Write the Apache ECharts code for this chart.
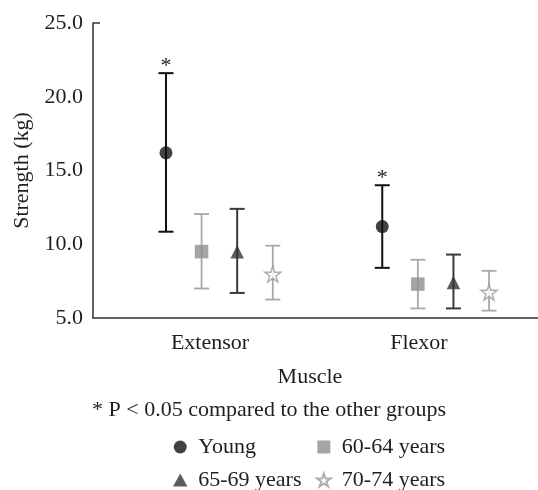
<!DOCTYPE html>
<html>
<head>
<meta charset="utf-8">
<script src="https://cdn.jsdelivr.net/npm/echarts@6/dist/echarts.min.js"></script>
<style>html,body{margin:0;padding:0;background:#fff;}#main{width:538px;height:490px;}</style>
</head>
<body>
<div id="main"></div>
<script>
// ---- data ----
const categories = ['Extensor', 'Flexor'];
const seriesNames = ['Young', '60-64 years', '65-69 years', '70-74 years'];
const youngMean = [16.2, 11.2];
const youngLow = [10.85, 8.4];
const youngHigh = [21.6, 14.0];
const g6064Mean = [9.5, 7.3];
const g6064Low = [7.0, 5.65];
const g6064High = [12.05, 8.95];
const g6569Mean = [9.5, 7.4];
const g6569Low = [6.7, 5.65];
const g6569High = [12.4, 9.3];
const g7074Mean = [7.98, 6.75];
const g7074Low = [6.25, 5.5];
const g7074High = [9.9, 8.2];
const youngSig = [1, 1];
const yTicks = [5, 10, 15, 20, 25];
const noteText = '* P < 0.05 compared to the other groups';

// ---- layout (data-space positions of groups on a 0..2 axis) ----
const groupCenters = [0.568, 1.54];
const labelPositions = [0.526, 1.465];
const seriesOffsets = [-0.24, -0.08, 0.08, 0.24];
const FONT = '"Liberation Serif", "Times New Roman", serif';
const FS = 22;
const TXT = '#1e1e1e';
const starPath = 'path://M50 0 L61.23 34.55 L97.55 34.55 L68.16 55.9 L79.39 90.45 L50 69.1 L20.61 90.45 L31.84 55.9 L2.45 34.55 L38.77 34.55 Z';
const squarePath = 'path://M0 0 L10 0 L10 10 L0 10 Z';
const trianglePath = 'path://M5 0 L10 9 L0 9 Z';

function xPos(i, j) { return groupCenters[i] + seriesOffsets[j]; }

function errSeries(j, lows, highs, color, width, sig) {
  return {
    type: 'custom',
    name: seriesNames[j] + ' err',
    silent: true,
    z: 1,
    encode: { x: 0, y: [1, 2] },
    data: lows.map((l, i) => [xPos(i, j), l, highs[i], sig ? sig[i] : 0]),
    renderItem: function (params, api) {
      const lo = api.coord([api.value(0), api.value(1)]);
      const hi = api.coord([api.value(0), api.value(2)]);
      const hw = 7.5;
      const st = { stroke: color, lineWidth: width };
      const ch = [
        { type: 'line', shape: { x1: lo[0], y1: lo[1], x2: hi[0], y2: hi[1] }, style: st },
        { type: 'line', shape: { x1: lo[0] - hw, y1: lo[1], x2: lo[0] + hw, y2: lo[1] }, style: st },
        { type: 'line', shape: { x1: hi[0] - hw, y1: hi[1], x2: hi[0] + hw, y2: hi[1] }, style: st }
      ];
      if (api.value(3)) {
        ch.push({ type: 'text', x: hi[0], y: hi[1] + 4, style: { text: '*', align: 'center', verticalAlign: 'bottom', font: FS + 'px ' + FONT, fill: TXT } });
      }
      return { type: 'group', children: ch };
    }
  };
}

function markSeries(j, means, symbol, size, itemStyle) {
  return {
    type: 'scatter',
    name: seriesNames[j],
    z: 3,
    symbol: symbol,
    symbolSize: size,
    itemStyle: itemStyle,
    data: means.map((m, i) => [xPos(i, j), m])
  };
}

const chart = echarts.init(document.getElementById('main'), null, { renderer: 'canvas' });
const legendBase = {
  orient: 'vertical', padding: 0, itemWidth: 26, itemHeight: 13, itemGap: 11,
  height: 80, selectedMode: false, symbolKeepAspect: true,
  textStyle: { fontFamily: FONT, fontSize: FS, color: TXT }
};
chart.setOption({
  animation: false,
  backgroundColor: '#fff',
  textStyle: { fontFamily: FONT },
  title: {
    text: noteText, left: 92, top: 399, padding: 0,
    textStyle: { fontFamily: FONT, fontSize: FS, fontWeight: 'normal', color: TXT }
  },
  legend: [
    Object.assign({}, legendBase, { left: 173, top: 436, data: [
      { name: seriesNames[0], icon: 'circle' },
      { name: seriesNames[2], icon: trianglePath }
    ] }),
    Object.assign({}, legendBase, { left: 316, top: 436, data: [
      { name: seriesNames[1], icon: squarePath },
      { name: seriesNames[3], icon: starPath }
    ] })
  ],
  grid: { left: 93, right: 0, top: 23, bottom: 172, containLabel: false },
  xAxis: {
    type: 'value', min: 0, max: 2,
    splitLine: { show: false },
    axisLine: { lineStyle: { color: '#333', width: 1.5 } },
    axisTick: { show: false },
    axisLabel: {
      customValues: labelPositions,
      formatter: function (v) {
        const k = labelPositions.findIndex(p => Math.abs(p - v) < 1e-6);
        return k >= 0 ? categories[k] : '';
      },
      fontFamily: FONT, fontSize: FS, color: TXT, margin: 14
    },
    name: 'Muscle', nameLocation: 'middle', nameGap: 48,
    nameTextStyle: { fontFamily: FONT, fontSize: FS, color: TXT, padding: [0, 11, 0, 0] }
  },
  yAxis: {
    type: 'value', min: 5, max: 25, interval: 5,
    splitLine: { show: false },
    axisLine: { show: true, lineStyle: { color: '#333', width: 1.5 } },
    axisTick: { show: true, inside: true, length: 7, customValues: [25], lineStyle: { color: '#333', width: 1.5 } },
    axisLabel: {
      customValues: yTicks,
      formatter: v => v.toFixed(1),
      fontFamily: FONT, fontSize: FS, color: TXT, margin: 10
    },
    name: 'Strength (kg)', nameLocation: 'middle', nameGap: 59, nameRotate: 90,
    nameTextStyle: { fontFamily: FONT, fontSize: FS, color: TXT }
  },
  series: [
    errSeries(0, youngLow, youngHigh, '#111111', 2, youngSig),
    errSeries(1, g6064Low, g6064High, '#a8a8a8', 1.8),
    errSeries(2, g6569Low, g6569High, '#3a3a3a', 2),
    errSeries(3, g7074Low, g7074High, '#a8a8a8', 1.8),
    markSeries(0, youngMean, 'circle', 13, { color: '#111111' }),
    markSeries(1, g6064Mean, 'rect', 13.5, { color: '#8f8f8f' }),
    markSeries(2, g6569Mean, 'triangle', 13.5, { color: '#353535' }),
    markSeries(3, g7074Mean, starPath, 16, { color: '#ffffff', borderColor: '#9a9a9a', borderWidth: 1.5 })
  ]
});
</script>
</body>
</html>
